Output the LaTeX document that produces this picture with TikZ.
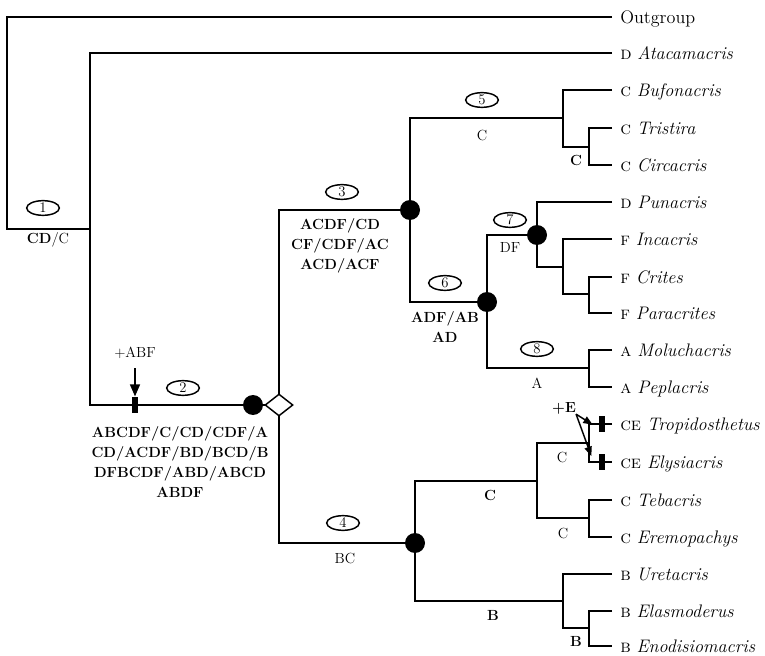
\documentclass[tikz,border=0pt]{standalone}
\usepackage{tikz}
\usetikzlibrary{arrows.meta,positioning,shapes.geometric}

\begin{document}
\begin{tikzpicture}[x=0.75pt,y=-0.75pt,
  br/.style={line width=1.5pt},
  taxon/.style={anchor=west,inner xsep=6pt,inner ysep=0pt,text height=9.3pt,text depth=0pt,font=\fontsize{13.6}{16}\selectfont},
  lab/.style={inner sep=0pt,align=center,font=\fontsize{11}{15}\selectfont},
  blab/.style={lab,font=\fontsize{11}{15}\selectfont\bfseries},
  num/.style={ellipse,draw,line width=1.1pt,minimum width=24.5pt,minimum height=11pt,inner sep=0pt,font=\fontsize{11}{11}\selectfont},
  hub/.style={circle,fill=black,minimum size=15pt,inner sep=0pt},
  gain/.style={rectangle,fill=black,minimum width=3.8pt,minimum height=12.5pt,inner sep=0pt},
  arr/.style={-{Triangle[length=9pt,width=7.5pt]},line width=1.1pt},
  sarr/.style={-{Triangle[length=7pt,width=5.5pt]},line width=1.1pt}]
  \useasboundingbox (0,0) rectangle (765,656);
  \node[taxon] (out) at (612,17) {Outgroup};
  \node[taxon] (atac) at (612,53) {\textsc{d} \textit{Atacamacris}};
  \node[taxon] (bufo) at (612,90) {\textsc{c} \textit{Bufonacris}};
  \node[taxon] (tris) at (612,128) {\textsc{c} \textit{Tristira}};
  \node[taxon] (circ) at (612,165) {\textsc{c} \textit{Circacris}};
  \node[taxon] (puna) at (612,202) {\textsc{d} \textit{Punacris}};
  \node[taxon] (inca) at (612,239) {\textsc{f} \textit{Incacris}};
  \node[taxon] (crit) at (612,277) {\textsc{f} \textit{Crites}};
  \node[taxon] (para) at (612,313) {\textsc{f} \textit{Paracrites}};
  \node[taxon] (molu) at (612,350) {\textsc{a} \textit{Moluchacris}};
  \node[taxon] (pepl) at (612,387) {\textsc{a} \textit{Peplacris}};
  \node[taxon] (trop) at (612,424) {\textsc{ce} \textit{Tropidosthetus}};
  \node[taxon] (elys) at (612,462) {\textsc{ce} \textit{Elysiacris}};
  \node[taxon] (teba) at (612,500) {\textsc{c} \textit{Tebacris}};
  \node[taxon] (erem) at (612,537) {\textsc{c} \textit{Eremopachys}};
  \node[taxon] (uret) at (612,574) {\textsc{b} \textit{Uretacris}};
  \node[taxon] (elas) at (612,611) {\textsc{b} \textit{Elasmoderus}};
  \node[taxon] (enod) at (612,646) {\textsc{b} \textit{Enodisiomacris}};
  \coordinate (n0) at (7,229);
  \coordinate (n1) at (90,229);
  \coordinate (n2) at (279,405);
  \coordinate (n3) at (410,210);
  \coordinate (n4) at (415,543);
  \coordinate (n5) at (563,118);
  \coordinate (n5b) at (589,147);
  \coordinate (n6) at (487,302);
  \coordinate (n7) at (537,235);
  \coordinate (n7b) at (563,267);
  \coordinate (n7c) at (589,294);
  \coordinate (n8) at (589,368);
  \coordinate (n9) at (537,481);
  \coordinate (n10) at (589,443);
  \coordinate (n11) at (589,518);
  \coordinate (n12) at (563,601);
  \coordinate (n13) at (589,628);
  \draw[br] (out.west) -| (n0) -- (n1);
  \draw[br] (atac.west) -| (n1) |- (n2);
  \draw[br] (n3) -| (n2) |- (n4);
  \draw[br] (n5) -| (n3) |- (n6);
  \draw[br] (bufo.west) -| (n5) |- (n5b);
  \draw[br] (tris.west) -| (n5b) |- (circ.west);
  \draw[br] (n7) -| (n6) |- (n8);
  \draw[br] (puna.west) -| (n7) |- (n7b);
  \draw[br] (inca.west) -| (n7b) |- (n7c);
  \draw[br] (crit.west) -| (n7c) |- (para.west);
  \draw[br] (molu.west) -| (n8) |- (pepl.west);
  \draw[br] (n9) -| (n4) |- (n12);
  \draw[br] (n10) -| (n9) |- (n11);
  \draw[br] (trop.west) -| (n10) |- (elys.west);
  \draw[br] (teba.west) -| (n11) |- (erem.west);
  \draw[br] (uret.west) -| (n12) |- (n13);
  \draw[br] (elas.west) -| (n13) |- (enod.west);
  \node[hub] (h2) at (253,405) {};
  \node[diamond,draw,fill=white,line width=1.1pt,minimum width=21pt,minimum height=16.5pt,inner sep=0pt] (d2) at (n2) {};
  \node[hub] (h3) at (n3) {};
  \node[hub] (h4) at (n4) {};
  \node[hub] (h6) at (n6) {};
  \node[hub] (h7) at (n7) {};
  \node[gain] (g2) at (135,405) {};
  \node[gain] (gt) at ([xshift=-7.5pt]trop.west) {};
  \node[gain] (ge) at ([xshift=-7.5pt]elys.west) {};
  \node[lab] (abf) at (135,353) {+ABF};
  \draw[arr] ([yshift=-7pt]abf.south) -- (g2.north);
  \node[blab] (pe) at (564,408) {+E};
  \draw[sarr] (pe.south east) -- ([xshift=-14.5pt,yshift=-0.5pt]trop.west);
  \draw[sarr] (pe.south east) -- ([xshift=-15.5pt,yshift=4.5pt]elys.west);
  \node[num] (l1) at (43,208) {1};
  \node[lab] (s1) at (48,240) {\textbf{CD}/C};
  \node[num] (l2) at (183,388) {2};
  \node[blab,anchor=north] (s2) at (180,426) {ABCDF/C/CD/CDF/A\\CD/ACDF/BD/BCD/B\\DFBCDF/ABD/ABCD\\ABDF};
  \node[num] (l3) at (342,192) {3};
  \node[blab,anchor=north] (s3) at (340,218) {ACDF/CD\\CF/CDF/AC\\ACD/ACF};
  \node[num] (l4) at (343,523) {4};
  \node[lab] (s4) at (345,558) {BC};
  \node[num] (l5) at (482,100) {5};
  \node[lab] (s5) at (482,135) {C};
  \node[num] (l6) at (445,283) {6};
  \node[blab,anchor=north] (s6) at (445,311) {ADF/AB\\AD};
  \node[num] (l7) at (510,220) {7};
  \node[lab] (s7) at (510,247) {DF};
  \node[num] (l8) at (537,349) {8};
  \node[lab] (s8) at (537,383) {A};
  \node[blab] (s5b) at (576,160) {C};
  \node[blab] (s9) at (490,495) {C};
  \node[lab] (s10) at (562,457) {C};
  \node[lab] (s11) at (563,533) {C};
  \node[blab] (s12) at (493,615) {B};
  \node[blab] (s13) at (576,641) {B};
\end{tikzpicture}
\end{document}
